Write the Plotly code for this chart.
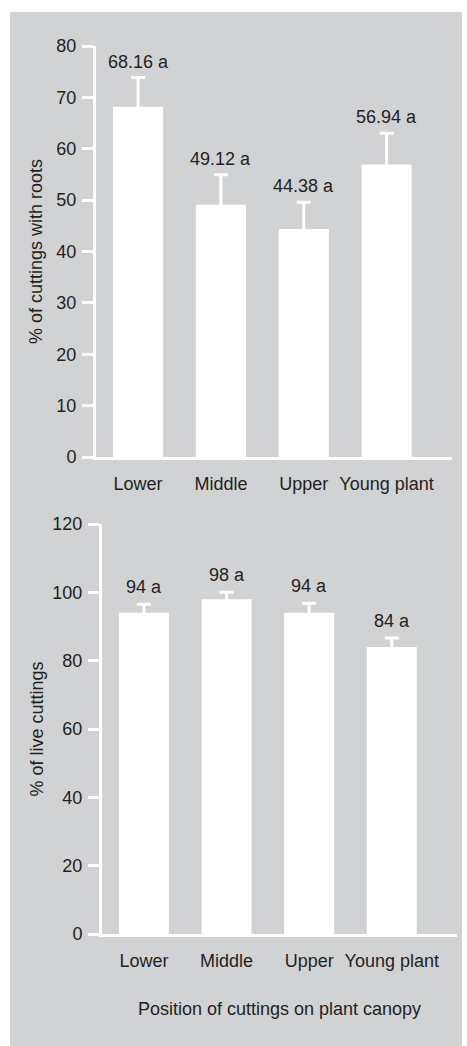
import plotly.graph_objects as go

# Data
positions = ["Lower", "Middle", "Upper", "Young plant"]
rooted_pct = [68.16, 49.12, 44.38, 56.94]
rooted_err = [5.7, 5.8, 5.2, 6.1]
rooted_labels = ["68.16 a", "49.12 a", "44.38 a", "56.94 a"]
live_pct = [94, 98, 94, 84]
live_err = [2.5, 2.0, 2.8, 2.6]
live_labels = ["94 a", "98 a", "94 a", "84 a"]
rooted_ticks = [0, 10, 20, 30, 40, 50, 60, 70, 80]
live_ticks = [0, 20, 40, 60, 80, 100, 120]

W, H = 467, 1046
PANEL = "#d1d2d4"
INK = "#231f20"
FONT = "Liberation Sans, Arial, sans-serif"


def px_x(v):
    return v / W


def px_y(v):
    return 1 - v / H


xs = list(range(len(positions)))

fig = go.Figure()

fig.add_trace(go.Bar(
    x=xs, y=rooted_pct, width=0.605,
    marker=dict(color="white", line=dict(width=0)),
    error_y=dict(type="data", array=rooted_err,
                 color="white", thickness=3, width=7),
    xaxis="x", yaxis="y", hoverinfo="skip", showlegend=False,
))
fig.add_trace(go.Bar(
    x=xs, y=live_pct, width=0.605,
    marker=dict(color="white", line=dict(width=0)),
    error_y=dict(type="data", array=live_err,
                 color="white", thickness=3, width=7),
    xaxis="x2", yaxis="y2", hoverinfo="skip", showlegend=False,
))

annotations = []
for i, (v, e, t) in enumerate(zip(rooted_pct, rooted_err, rooted_labels)):
    annotations.append(dict(x=i, y=v + e, xref="x", yref="y", text=t,
                            showarrow=False, yanchor="middle", yshift=16,
                            font=dict(size=18, color=INK, family=FONT)))
for i, (v, e, t) in enumerate(zip(live_pct, live_err, live_labels)):
    annotations.append(dict(x=i, y=v + e, xref="x2", yref="y2", text=t,
                            showarrow=False, yanchor="middle", yshift=17,
                            font=dict(size=18, color=INK, family=FONT)))

axis_common = dict(
    showline=True, linecolor="white", linewidth=3,
    showgrid=False, zeroline=False, automargin=False,
    tickfont=dict(size=18, color=INK, family=FONT),
)

fig.update_layout(
    width=W, height=H,
    margin=dict(l=0, r=0, t=0, b=0, pad=0, autoexpand=False),
    paper_bgcolor="white",
    plot_bgcolor="rgba(0,0,0,0)",
    font=dict(family=FONT, size=18, color=INK),
    bargap=0.395,
    shapes=[dict(type="rect", xref="paper", yref="paper",
                 x0=px_x(10), x1=px_x(462), y0=0, y1=px_y(12),
                 fillcolor=PANEL, line=dict(width=0), layer="below")],
    annotations=annotations,
    xaxis=dict(domain=[px_x(96), px_x(452)], range=[-0.508, 3.79],
               tickmode="array", tickvals=xs, ticktext=positions,
               ticks="", ticklabelstandoff=8, anchor="y", **axis_common),
    yaxis=dict(domain=[px_y(457), px_y(46)], range=[0, 80],
               tickmode="array", tickvals=rooted_ticks,
               ticks="outside", ticklen=11, tickwidth=3, tickcolor="white",
               ticklabelstandoff=2, anchor="x",
               title=dict(text="% of cuttings with roots", standoff=10,
                          font=dict(size=18, color=INK, family=FONT)),
               **axis_common),
    xaxis2=dict(domain=[px_x(102), px_x(457)], range=[-0.508, 3.79],
                tickmode="array", tickvals=xs, ticktext=positions,
                ticks="", ticklabelstandoff=8, anchor="y2",
                title=dict(text="Position of cuttings on plant canopy", standoff=33,
                           font=dict(size=18, color=INK, family=FONT)),
                **axis_common),
    yaxis2=dict(domain=[px_y(934), px_y(524)], range=[0, 120],
                tickmode="array", tickvals=live_ticks,
                ticks="outside", ticklen=11, tickwidth=3, tickcolor="white",
                ticklabelstandoff=2, anchor="x2",
                title=dict(text="% of live cuttings", standoff=5,
                           font=dict(size=18, color=INK, family=FONT)),
                **axis_common),
)

fig.write_html("out.html")
